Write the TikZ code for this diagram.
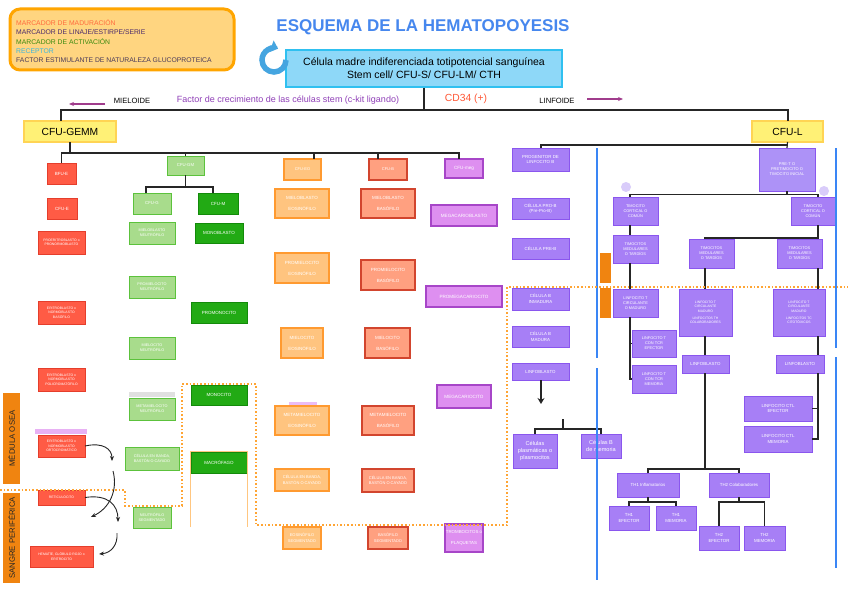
\documentclass[tikz,border=0pt]{standalone}
\usepackage{fontspec}
\setmainfont{Liberation Sans}
\usetikzlibrary{arrows.meta,calc}
\definecolor{legf}{HTML}{FFD580}
\definecolor{legb}{HTML}{FFA500}
\definecolor{lc1}{HTML}{FF6A3D}
\definecolor{lc2}{HTML}{4B2A6B}
\definecolor{lc3}{HTML}{3A8A0E}
\definecolor{lc4}{HTML}{3BB6E0}
\definecolor{lc5}{HTML}{4A3A5A}
\definecolor{titleblue}{HTML}{4687EE}
\definecolor{stemf}{HTML}{8ED8F8}
\definecolor{stemd}{HTML}{2FC0F0}
\definecolor{gemmf}{HTML}{FFF176}
\definecolor{gemmd}{HTML}{FFD454}
\definecolor{redf}{HTML}{FF5B45}
\definecolor{redd}{HTML}{E53E2C}
\definecolor{lgf}{HTML}{A8DC8C}
\definecolor{lgd}{HTML}{5CC23C}
\definecolor{dgf}{HTML}{22AA14}
\definecolor{dgd}{HTML}{138A0A}
\definecolor{eof}{HTML}{FFC47F}
\definecolor{eod}{HTML}{FF9A30}
\definecolor{baf}{HTML}{FFA080}
\definecolor{bad}{HTML}{D2452E}
\definecolor{mgf}{HTML}{DE8FF0}
\definecolor{mgd}{HTML}{A746C8}
\definecolor{lpf}{HTML}{A77FF6}
\definecolor{lpd}{HTML}{8A56EE}
\definecolor{ptf}{HTML}{AD92F7}
\definecolor{orbar}{HTML}{F08410}
\definecolor{blueln}{HTML}{3A86F5}
\definecolor{dotor}{HTML}{FFA534}
\definecolor{circc}{HTML}{D9CCFA}
\definecolor{arrp}{HTML}{A03C8C}
\definecolor{factc}{HTML}{9040B8}
\definecolor{cdred}{HTML}{FF5533}
\definecolor{refb}{HTML}{45A5E0}
\definecolor{macor}{HTML}{FFC680}
\pgfdeclarelayer{background}
\pgfsetlayers{background,main}
\newcommand{\bx}[7]{\node[#2, minimum width={(#5-#3)*1pt}, minimum height={(#6-#4)*1pt}] (#1) at ({(#3+#5)/2},{(#4+#6)/2}) {#7};}
\begin{document}
\begin{tikzpicture}[x=1pt,y=-1pt,
 bxs/.style={draw, line width=1pt, inner sep=0pt, outer sep=0pt, align=center, text=white, font=\fontsize{4}{5}\selectfont},
 rd/.style={bxs, fill=redf, draw=redd, font=\fontsize{3.4}{4.4}\selectfont},
 rdb/.style={rd, font=\fontsize{4.5}{5.5}\selectfont},
 lg/.style={bxs, fill=lgf, draw=lgd, font=\fontsize{3.8}{5}\selectfont},
 lgb/.style={lg, font=\fontsize{4.3}{5.5}\selectfont},
 dg/.style={bxs, fill=dgf, draw=dgd, font=\fontsize{4.5}{6}\selectfont},
 eo/.style={bxs, fill=eof, draw=eod, line width=1.2pt, font=\fontsize{4.5}{11}\selectfont},
 eos/.style={eo, font=\fontsize{4}{5.5}\selectfont},
 ba/.style={bxs, fill=baf, draw=bad, line width=1.2pt, font=\fontsize{4.5}{11}\selectfont},
 bas/.style={ba, font=\fontsize{4}{5.5}\selectfont},
 mg/.style={bxs, fill=mgf, draw=mgd, line width=1.2pt, font=\fontsize{4.6}{6}\selectfont},
 mgp/.style={mg, font=\fontsize{4.4}{11}\selectfont},
 lp/.style={bxs, fill=lpf, draw=lpd, font=\fontsize{4.4}{5.8}\selectfont},
 lpt/.style={lp, font=\fontsize{3.9}{5}\selectfont},
 lps/.style={lp, font=\fontsize{3.4}{4.4}\selectfont},
 lpc/.style={lp, font=\fontsize{5.6}{6.6}\selectfont},
 ye/.style={bxs, fill=gemmf, draw=gemmd, text=black, line width=1.2pt, font=\fontsize{10.3}{12}\selectfont},
 ln/.style={draw=black!85, line width=1.2pt},
 redln/.style={draw=black!60, line width=2pt},
 eoln/.style={draw=black!75, line width=1.5pt},
 parr/.style={draw=arrp, line width=1.3pt, -{Stealth[length=5pt,width=4pt]}},
 carr/.style={draw=black!85, line width=0.9pt, -{Stealth[length=5pt,width=4pt]}},
 legt/.style={anchor=west, inner sep=0pt, font=\fontsize{6.8}{8}\selectfont},
 barlab/.style={fill=orbar, inner sep=0pt, font=\fontsize{7.8}{9}\selectfont, text=black!85}
]
\useasboundingbox (0,0) rectangle (848,599);
\fill[white] (0,0) rectangle (848,599);

% legend
\node[draw=legb, fill=legf, line width=3pt, rounded corners=10pt, minimum width=224pt, minimum height=61pt, inner sep=0pt] (leg) at (122,39.5) {};
\node[legt, text=lc1] (l1) at (16,23) {MARCADOR DE MADURACIÓN};
\node[legt, text=lc2] (l2) at (16,32.5) {MARCADOR DE LINAJE/ESTIRPE/SERIE};
\node[legt, text=lc3] (l3) at (16,42) {MARCADOR DE ACTIVACIÓN};
\node[legt, text=lc4] (l4) at (16,51) {RECEPTOR};
\node[legt, text=lc5] (l5) at (16,60) {FACTOR ESTIMULANTE DE NATURALEZA GLUCOPROTEICA};

% title
\node[font=\bfseries\fontsize{17}{20}\selectfont, text=titleblue] (title) at (423,27) {ESQUEMA DE LA HEMATOPOYESIS};

% stem cell
\node[draw=stemd, fill=stemf, line width=2pt, minimum width=276pt, minimum height=37pt, inner sep=0pt, align=center, font=\fontsize{10.5}{13}\selectfont] (stem) at (424,68.5) {Célula madre indiferenciada totipotencial sanguínea\\Stem cell/ CFU-S/ CFU-LM/ CTH};
\coordinate (rc) at (274,60);
\draw[refb, line width=5.5pt, -{Triangle[length=7pt,width=12pt]}] ($(rc)+(0:12)$) arc[start angle=0, end angle=290, radius=12];

% frame texts
\node[font=\fontsize{7.6}{9}\selectfont] (mie) at (132,101) {MIELOIDE};
\node[text=factc, font=\fontsize{9}{11}\selectfont] (fac) at (288,100) {Factor de crecimiento de las células stem (c-kit ligando)};
\node[text=cdred, font=\fontsize{10.3}{12}\selectfont] (cd) at (466,99) {CD34 (+)};
\node[font=\fontsize{7.6}{9}\selectfont] (lin) at (557,101) {LINFOIDE};
\coordinate (am1) at (105,104); \coordinate (am2) at (69,104);
\draw[parr] (am1) -- (am2);
\coordinate (al1) at (587,99); \coordinate (al2) at (623,99);
\draw[parr] (al1) -- (al2);

% yellow
\bx{gemm}{ye}{24}{121}{116}{142}{CFU-GEMM}
\bx{cful}{ye}{752}{121}{823}{142}{CFU-L}

% red
\bx{bfue}{rdb}{47}{163}{76}{184}{BFU-E}
\bx{cfue}{rdb}{47}{198}{77}{219}{CFU-E}
\bx{proer}{rd}{38}{231}{85}{254}{PROERITROBLASTO o\\PRONORMOBLASTO}
\bx{erbas}{rd}{38}{301}{85}{324}{ERITROBLASTO o\\NORMOBLASTO\\BASÓFILO}
\bx{erpol}{rd}{38}{368}{85}{391}{ERITROBLASTO o\\NORMOBLASTO\\POLICROMATÓFILO}
\bx{erort}{rd}{38}{435}{85}{457}{ERITROBLASTO o\\NORMOBLASTO\\ORTOCROMÁTICO}
\bx{retic}{rd}{38}{490}{85}{505}{RETICULOCITO}
\bx{eritr}{rd}{30}{546}{93}{567}{HEMATÍE, GLÓBULO ROJO o\\ERITROCITO}

% light green
\bx{cfugm}{lgb}{167}{156}{204}{175}{CFU-GM}
\bx{cfug}{lgb}{133}{193}{171}{214}{CFU-G}
\bx{mbn}{lg}{129}{222}{175}{244}{MIELOBLASTO\\NEUTRÓFILO}
\bx{pmn}{lg}{129}{276}{175}{298}{PROMIELOCITO\\NEUTRÓFILO}
\bx{mcn}{lg}{129}{337}{175}{359}{MIELOCITO\\NEUTRÓFILO}
\bx{mmn}{lg}{129}{398}{175}{420}{METAMIELOCITO\\NEUTRÓFILO}
\bx{ban}{lg}{125}{447}{179}{470}{CÉLULA EN BANDA,\\BASTÓN O CAYADO}
\bx{sgn}{lg}{133}{507}{171}{528}{NEUTRÓFILO\\SEGMENTADO}

% dark green
\bx{cfum}{dg}{198}{193}{238}{214}{CFU-M}
\bx{mob}{dg}{195}{223}{243}{243}{MONOBLASTO}
\bx{pmo}{dg}{191}{302}{247}{323}{PROMONOCITO}
\bx{mon}{dg}{191}{385}{247}{405}{MONOCITO}
\bx{mac}{dg}{191}{452}{247}{473}{MACRÓFAGO}

% eosinophil
\bx{cfueo}{eos}{284}{159}{321}{180}{CFU-EO}
\bx{mbe}{eo}{275}{189}{329}{218}{MIELOBLASTO\\EOSINÓFILO}
\bx{pme}{eo}{275}{253}{329}{283}{PROMIELOCITO\\EOSINÓFILO}
\bx{mce}{eo}{281}{328}{323}{358}{MIELOCITO\\EOSINÓFILO}
\bx{mme}{eo}{275}{406}{329}{435}{METAMIELOCITO\\EOSINÓFILO}
\bx{bae}{eos}{275}{469}{329}{491}{CÉLULA EN BANDA,\\BASTÓN O CAYADO}
\bx{sge}{eos}{283}{527}{321}{549}{EOSINÓFILO\\SEGMENTADO}

% basophil
\bx{cfub}{bas}{369}{159}{407}{180}{CFU-B}
\bx{mbb}{ba}{361}{189}{415}{218}{MIELOBLASTO\\BASÓFILO}
\bx{pmb}{ba}{361}{260}{415}{290}{PROMIELOCITO\\BASÓFILO}
\bx{mcb}{ba}{365}{328}{410}{358}{MIELOCITO\\BASÓFILO}
\bx{mmb}{ba}{362}{406}{414}{435}{METAMIELOCITO\\BASÓFILO}
\bx{bab}{bas}{362}{469}{414}{492}{CÉLULA EN BANDA,\\BASTÓN O CAYADO}
\bx{sgb}{bas}{368}{527}{408}{549}{BASÓFILO\\SEGMENTADO}

% megakaryocyte
\bx{cfumeg}{mg}{445}{159}{483}{178}{CFU-meg}
\bx{mgb}{mg}{431}{205}{497}{226}{MEGACARIOBLASTO}
\bx{pmg}{mg}{426}{286}{502}{307}{PROMEGACARIOCITO}
\bx{mgc}{mg}{437}{385}{491}{408}{MEGACARIOCITO}
\bx{plq}{mgp}{445}{524}{483}{552}{TROMBOCITOS o\\PLAQUETAS}

% B lymphocytes
\bx{prb}{lp}{512}{148}{569}{171}{PROGENITOR DE\\LINFOCITO B}
\bx{prob}{lp}{512}{198}{569}{219}{CÉLULA PRO-B\\(Pre-Pro-B)}
\bx{preb}{lp}{512}{238}{569}{259}{CÉLULA PRE-B}
\bx{inb}{lp}{512}{288}{569}{310}{CÉLULA B\\INMADURA}
\bx{mab}{lp}{512}{326}{569}{347}{CÉLULA B\\MADURA}
\bx{lbb}{lp}{512}{363}{569}{380}{LINFOBLASTO}
\bx{plasm}{lpc}{513}{434}{557}{468}{Células\\plasmáticas o\\plasmocitos}
\bx{memb}{lpc}{581}{434}{621}{458}{Células B\\de memoria}

% T lymphocytes
\node[bxs, fill=ptf, draw=lpd, minimum width=56pt, minimum height=43pt] (pret) at (787,169.5) {PRE-T O\\PRETIMOCITO O\\TIMOCITO INICIAL};
\bx{tcl}{lpt}{613}{197}{658}{225}{TIMOCITO\\CORTICAL O\\COMÚN}
\bx{tcr}{lpt}{791}{197}{835}{225}{TIMOCITO\\CORTICAL O\\COMÚN}
\bx{tml}{lpt}{613}{235}{658}{263}{TIMOCITOS\\MEDULARES\\O TARDÍOS}
\bx{tmm}{lpt}{689}{239}{734}{268}{TIMOCITOS\\MEDULARES\\O TARDÍOS}
\bx{tmr}{lpt}{777}{239}{822}{268}{TIMOCITOS\\MEDULARES\\O TARDÍOS}
\bx{tcirc}{lpt}{613}{289}{658}{317}{LINFOCITO T\\CIRCULANTE\\O MADURO}
\bx{thc}{lps}{679}{289}{732}{336}{LINFOCITO T\\CIRCULANTE\\MADURO\\[3pt]LINFOCITOS TH\\COLABORADORES}
\bx{tcc}{lps}{773}{289}{825}{336}{LINFOCITO T\\CIRCULANTE\\MADURO\\[3pt]LINFOCITOS TC\\CITOTÓXICOS}
\bx{tef}{lpt}{632}{330}{676}{357}{LINFOCITO T\\CON TCR\\EFECTOR}
\bx{tmem}{lpt}{632}{365}{676}{393}{LINFOCITO T\\CON TCR\\MEMORIA}
\bx{lbth}{lp}{682}{355}{729}{373}{LINFOBLASTO}
\bx{lbtc}{lp}{776}{355}{824}{373}{LINFOBLASTO}
\bx{ctle}{lp}{744}{396}{812}{421}{LINFOCITO CTL\\EFECTOR}
\bx{ctlm}{lp}{744}{426}{812}{452}{LINFOCITO CTL\\MEMORIA}
\bx{th1}{lp}{617}{473}{679}{497}{TH1 Inflamatorios}
\bx{th2}{lp}{709}{473}{769}{497}{TH2 Colaboradores}
\bx{th1e}{lp}{609}{506}{649}{530}{TH1\\EFECTOR}
\bx{th1m}{lp}{656}{506}{696}{530}{TH1\\MEMORIA}
\bx{th2e}{lp}{699}{526}{739}{550}{TH2\\EFECTOR}
\bx{th2m}{lp}{744}{526}{785}{550}{TH2\\MEMORIA}

\node[circle, fill=circc, minimum size=10pt, inner sep=0pt] (ci1) at (626,187) {};
\node[circle, fill=circc, minimum size=10pt, inner sep=0pt] (ci2) at (824,191) {};

% orange side bars
\node[fill=orbar, minimum width=11pt, minimum height=30pt, inner sep=0pt] (ob1) at (605.5,268) {};
\node[fill=orbar, minimum width=11pt, minimum height=30pt, inner sep=0pt] (ob2) at (605.5,303) {};
\node[barlab, minimum width=91pt, minimum height=17pt, rotate=90] (medula) at (11.5,438.5) {MÉDULA OSEA};
\node[barlab, minimum width=90pt, minimum height=17pt, rotate=90] (sangre) at (11.5,538) {SANGRE PERIFÉRICA};

% label bands
\node[fill=black!12, minimum width=46pt, minimum height=5pt, inner sep=0pt] (band1) at (152,394.5) {};
\node[fill=mgf!70, minimum width=52pt, minimum height=5pt, inner sep=0pt] (band2) at (61,431.5) {};
\node[fill=mgf!60, minimum width=28pt, minimum height=3pt, inner sep=0pt] (band3) at (303,403.5) {};

% ===== connectors =====
\coordinate (fl) at (61,110); \coordinate (fr) at (788,110);
\draw[ln] (gemm.north -| fl) -- (fl) -- (fr) -- (cful.north -| fr);
\draw[ln] (stem.south) -- (stem.south |- fl);

\coordinate (mbus) at (0,153);
\coordinate (nx) at (146,0); \coordinate (mx) at (213,0);
\coordinate (ex) at (291,0); \coordinate (bsx) at (377,0);
\coordinate (gx) at (458,0); \coordinate (lbx) at (541,0);
\draw[ln] (gemm.south) -- (gemm.south |- mbus);
\draw[ln] (bfue.north) -- (bfue.north |- mbus) -- ([xshift=-5pt]cfumeg.north |- mbus) -- ([xshift=-5pt]cfumeg.north);
\draw[ln] (cfugm.north) -- (cfugm.north |- mbus);
\draw[ln] ([xshift=11.5pt]cfueo.north) -- ([xshift=11.5pt]cfueo.north |- mbus);
\draw[ln] ([xshift=-10pt]cfub.north) -- ([xshift=-10pt]cfub.north |- mbus);

\coordinate (gmb) at (0,187);
\draw[ln] (cfugm.south) -- (cfugm.south |- gmb);
\draw[ln] (cfug.north -| nx) |- (gmb -| mx) -- (cfum.north -| mx);

\begin{pgfonlayer}{background}
\draw[redln] (bfue.south) -- (eritr.north);
\draw[ln] (cfug.south -| nx) -- (sgn.north -| nx);
\draw[ln] (cfum.south -| mx) -- (mac.north -| mx);
\draw[eoln] (cfueo.south -| ex) -- (sge.north -| ex);
\draw[eoln] (cfub.south -| bsx) -- (sgb.north -| bsx);
\draw[eoln] (cfumeg.south -| gx) -- (plq.north -| gx);
\draw[eoln] (prb.south -| lbx) -- (lbb.north -| lbx);
\end{pgfonlayer}
\coordinate (lbtip) at (541,404);
\draw[draw=black!85, line width=1.5pt, -{Stealth[length=6pt,width=7pt]}] (lbb.south -| lbx) -- (lbtip);

% plasma / memory split
\coordinate (pbus) at (0,429);
\coordinate (ptop) at (563,419);
\draw[ln] (ptop) -- (ptop |- pbus);
\draw[ln] (plasm.north) -- (plasm.north |- pbus) -- (memb.north |- pbus) -- (memb.north);

% lymphoid bus
\coordinate (lbus) at (0,145);
\draw[ln] (cful.south) -- (pret.north);
\draw[ln] (prb.north -| lbx) |- (cful.south |- lbus);

% T connectors
\coordinate (tbus) at (0,194.5);
\coordinate (tlx) at (630,0); \coordinate (tcx) at (818,0); \coordinate (thx) at (705,0);
\draw[ln] (pret.south) -- (pret.south |- tbus);
\draw[ln] (tcl.north -| tlx) -- (tlx |- tbus) -- (tcx |- tbus) -- (tcr.north -| tcx);
\draw[ln] (tcl.south -| tlx) -- (tml.north -| tlx);
\draw[ln] (tml.south -| tlx) -- (tcirc.north -| tlx);
\draw[ln] (tcirc.south -| tlx) -- (tlx |- tmem.west) -- (tmem.west);
\draw[ln] (tlx |- tef.west) -- (tef.west);
\coordinate (tb2) at (0,238);
\draw[ln] (tcr.south -| tcx) -- (tcx |- tb2) -- (thx |- tb2) -- (tmm.north -| thx);
\draw[ln] (tcx |- tb2) -- (tmr.north -| tcx);
\draw[ln] (tmm.south -| thx) -- (thc.north -| thx);
\draw[ln] (thc.south -| thx) -- (lbth.north -| thx);
\coordinate (thbus) at (0,469);
\draw[ln] (lbth.south -| thx) -- (thx |- thbus);
\draw[ln] (th1.north) -- (th1.north |- thbus) -- (th2.north |- thbus) -- (th2.north);
\coordinate (t1b) at (0,502);
\draw[ln] (th1.south) -- (th1.south |- t1b);
\draw[ln] (th1e.north) -- (th1e.north |- t1b) -- (th1m.north |- t1b) -- (th1m.north);
\draw[ln] (th2.south) -- (th2.south |- t1b);
\draw[ln] (th2e.north) -- (th2e.north |- t1b) -- (th2m.north |- t1b) -- (th2m.north);
\draw[ln] (tmr.south -| tcx) -- (tcc.north -| tcx);
\draw[ln] (tcc.south -| tcx) -- (lbtc.north -| tcx);
\draw[ln] (lbtc.south -| tcx) -- (tcx |- ctlm.east) -- (ctlm.east);
\draw[ln] (tcx |- ctle.east) -- (ctle.east);

% blue lines
\coordinate (bl1) at (597,148); \coordinate (bl2) at (597,358);
\coordinate (bl3) at (597,368); \coordinate (bl4) at (597,580);
\coordinate (br1) at (836,148); \coordinate (br2) at (836,348);
\coordinate (br3) at (836,357); \coordinate (br4) at (836,568);
\draw[blueln, line width=1.5pt] (bl1) -- (bl2) (bl3) -- (bl4) (br1) -- (br2) (br3) -- (br4);

% orange dotted boundary
\draw[dotor, line width=1.6pt, dotted] (0,490) -- (125,490) -- (125,506) -- (182,506) -- (182,384) -- (256,384) -- (256,525) -- (507,525) -- (507,287) -- (848,287);
\draw[macor, line width=1pt] (190,527) -- (190,451) -- (247,451) -- (247,527);

% curved arrows (left)
\coordinate (ca1) at (112,461); \coordinate (ca2s) at (113,471); \coordinate (ca2) at (91,517);
\coordinate (ca3) at (118,522); \coordinate (ca4s) at (117,533); \coordinate (ca4) at (99,554);
\draw[carr] (erort.east) .. controls (103,442) and (112,449) .. (ca1);
\draw[carr] (ca2s) .. controls (118,490) and (110,508) .. (ca2);
\draw[carr] (retic.east) .. controls (108,494) and (118,505) .. (ca3);
\draw[carr] (ca4s) .. controls (118,545) and (111,553) .. (ca4);
\end{tikzpicture}
\end{document}
